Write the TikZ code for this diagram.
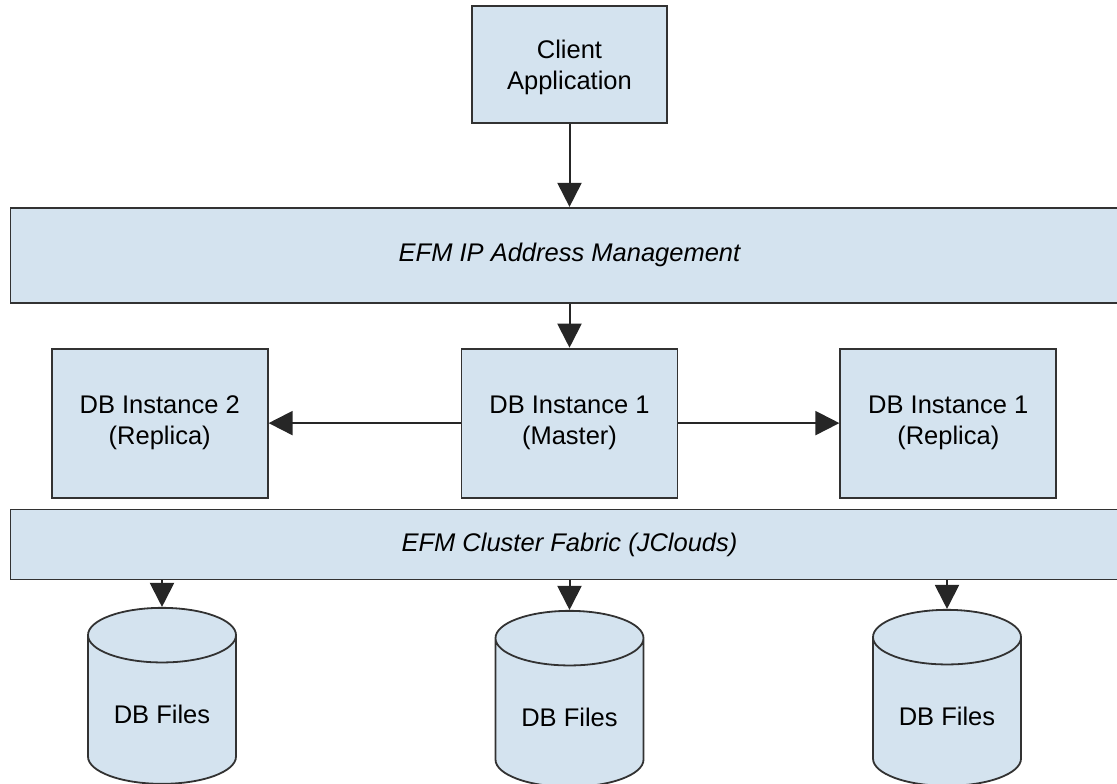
\documentclass[tikz,border=0pt]{standalone}
\usepackage{fontspec}
\setmainfont{Liberation Sans}
\usetikzlibrary{positioning}
\usetikzlibrary{shapes}
\usetikzlibrary{arrows.meta}

\definecolor{boxfill}{RGB}{212,227,239}
\definecolor{boxline}{RGB}{50,50,50}

\begin{document}
\begin{tikzpicture}[x=1pt,y=-1pt]

\def\BoxWidth{216pt}
\def\BoxHeight{149pt}
\def\BarWidth{1118pt}

% Styles
\tikzstyle{box} =
	[draw=boxline, line width=1.8pt, fill=boxfill, align=center,
	 font=\fontsize{25.5}{31}\selectfont]

\tikzstyle{module} =
	[box, minimum width=\BoxWidth, minimum height=\BoxHeight]

\tikzstyle{layer} =
	[box, minimum width=\BarWidth, font=\fontsize{25.5}{31}\selectfont\itshape]

\tikzstyle{store} =
	[box, cylinder, shape border rotate=90, aspect=0.53,
	 minimum width=148pt, minimum height=176pt]

\tikzstyle{flow} =
	[-{Triangle[length=24pt,width=24pt]}, color=black!85,
	 every edge/.append style={line width=2pt}]

\useasboundingbox (0,0) rectangle (1117,784);
\clip (0,0) rectangle (1117,784);

% Modules

\node (Client) at (569.5, 64.5)
	[box, minimum width=195pt, minimum height=117pt, text depth=0pt]
	{Client\\Application};

\node (IPManager) [layer, minimum height=95pt, below=83pt of Client]
	{EFM IP Address Management};

\node (Master) [module, below=44pt of IPManager]
	{DB Instance 1\\(Master)};
\node (ReplicaTwo) [module, left=192pt of Master] {DB Instance 2\\(Replica)};
\node (ReplicaOne) [module, right=161pt of Master] {DB Instance 1\\(Replica)};

\node (Fabric) [layer, minimum height=70pt, below=10pt of Master]
	{EFM Cluster Fabric (JClouds)};

\node (FilesA) at (162, 714) [store] {DB Files};
\node (FilesB) at (569.5, 717) [store] {DB Files};
\node (FilesC) at (947, 716) [store] {DB Files};

% Edges

\path[flow]
	(Client) edge (IPManager)
	(IPManager.south -| Master) edge (Master)
	(Master) edge (ReplicaTwo)
	(Master) edge (ReplicaOne);

\path[flow]
	(Fabric.south -| FilesA) edge (FilesA)
	(Fabric.south -| FilesB) edge (FilesB)
	(Fabric.south -| FilesC) edge (FilesC);

\end{tikzpicture}
\end{document}
